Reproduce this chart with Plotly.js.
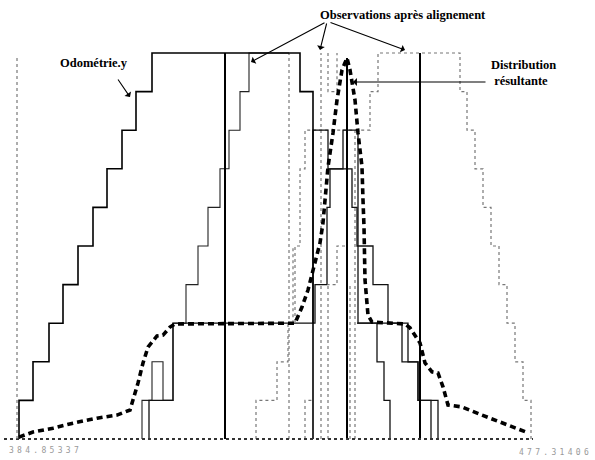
<!DOCTYPE html>
<html><head><meta charset="utf-8">
<script src="https://cdn.plot.ly/plotly-3.0.1.min.js"></script>
<style>html,body{margin:0;padding:0;background:#fff}#chart{width:595px;height:460px}</style>
</head><body><div id="chart"></div>
<script>
// x: position along the track (chart units), y: histogram level (0..10)
const axisLabels = ["384.85337", "477.31406"];

// Odométrie.y staircase (step positions / levels)
const odometrieX = [19,19,33,49,63,78,93,107,122,136,152,300,313];
const odometrieY = [0,1,2,3,4,5,6,7,8,9,10,9,0];

// observations after alignment (solid)
const obs1X = [142,142,152,163,173,186,198,208,220,229,240,249,289];
const obs1Y = [0,1,2,1,3,4,5,6,7,8,9,10,10];
const obs2X = [149,149,173,315,327,330,343,358,402,418,438];
const obs2Y = [0,1,3,4,6,7,8,3,2,1,0];
const obs3X = [313,313,328,352,357,373,388,408,418,431];
const obs3Y = [3,8,7,6,5,4,3,2,1,0];
const obs4X = [357,377,384,390];
const obs4Y = [3,2,1,0];

// observation after alignment (dotted)
const obs5X = [256,256,277,288,295,300,305,370,378,460,467,475,483,491,499,507,515,523,531];
const obs5Y = [0,1,2,3,5,7,8,9,10,9,8,7,6,5,4,3,2,1,0];

// full-height solid observations (position, top level)
const solidVertX = [225,347,420];
const solidVertTop = [10,9.87,10];

// dotted observations as vertical edges (position, bottom, top)
const dotVertX = [289,321,355,350,328,293];
const dotVertLow = [0,0,0,0,0,3];
const dotVertTop = [10,10,8,4,4,5];

// small dotted boxes (corner points, null separates)
const dotBoxX = [328,328,337,337,null,345,337,337,328,null,305,305,312];
const dotBoxY = [10,9,9,10,null,5,5,4,4,null,0,1,1];

// resulting distribution
const distX = [19,33,53,73,97,117,130,133,138,143,148,157,163,170,175,295,302,308,315,320,323,328,333,337,342,347,350,355,358,362,363,364,365,368,372,405,410,420,425,432,438,443,448,462,482,502,525,528];
const distY = [0.05,0.18,0.28,0.41,0.54,0.62,0.75,1.01,1.45,1.97,2.38,2.67,2.69,2.90,2.98,3.0,3.42,3.86,4.56,5.08,5.6,7.05,7.93,8.78,9.56,9.87,9.56,8.78,7.93,7.05,6.19,5.5,4.12,3.21,3.03,2.98,2.88,2.49,1.97,1.74,1.71,1.35,0.88,0.83,0.62,0.41,0.18,0.16];

function vert(xs, lows, tops){
  const X=[],Y=[];
  xs.forEach((x,i)=>{X.push(x,x,null);Y.push(lows[i],tops[i],null);});
  return {X,Y};
}
const sv = vert(solidVertX, solidVertX.map(()=>0), solidVertTop);
const dv = vert(dotVertX, dotVertLow, dotVertTop);

const dotted = {color:'#777', width:1.2, dash:'dot'};
const traces = [
  {x:dv.X, y:dv.Y, mode:'lines', line:dotted},
  {x:dotBoxX, y:dotBoxY, mode:'lines', line:dotted},
  {x:obs5X, y:obs5Y, mode:'lines', line:Object.assign({shape:'hv'},dotted)},
  {x:obs1X, y:obs1Y, mode:'lines', line:{color:'#222', width:1.1, shape:'hv'}},
  {x:obs2X, y:obs2Y, mode:'lines', line:{color:'#111', width:1.3, shape:'hv'}},
  {x:obs3X, y:obs3Y, mode:'lines', line:{color:'#111', width:1.3, shape:'hv'}},
  {x:obs4X, y:obs4Y, mode:'lines', line:{color:'#111', width:1.3, shape:'hv'}},
  {x:sv.X, y:sv.Y, mode:'lines', line:{color:'#000', width:2}},
  {x:odometrieX, y:odometrieY, mode:'lines', line:{color:'#000', width:1.6, shape:'hv'}},
  {x:distX, y:distY, mode:'lines', line:{color:'#000', width:3.6, dash:'6px,4px'}}
];

const W=595,H=460;
const P=(px)=>px/W, Q=(py)=>1-py/H;
function arrow(tx,ty,hx,hy){
  return {xref:'paper',yref:'paper',x:P(hx),y:Q(hy),ax:tx-hx,ay:ty-hy,text:'',showarrow:true,
    arrowhead:1,arrowsize:1.2,arrowwidth:1.1,arrowcolor:'#000'};
}
const serif = {family:'Liberation Serif', size:12.5, color:'#000'};
const tickFont = {family:'DejaVu Sans Mono',size:8,color:'#999'};
const annotations = [
  {xref:'paper',yref:'paper',x:P(94),y:Q(63),xanchor:'center',yanchor:'middle',text:'<b>Odométrie.y</b>',showarrow:false,font:serif},
  arrow(117,78,130,97),
  {xref:'paper',yref:'paper',x:P(403),y:Q(15),xanchor:'center',yanchor:'middle',text:'<b>Observations après alignement</b>',showarrow:false,font:serif},
  arrow(326,22,251,62),
  arrow(327,22,320,50),
  arrow(329,22,405,50),
  {xref:'paper',yref:'paper',x:P(489),y:Q(73),xanchor:'left',yanchor:'middle',align:'left',text:'<b>Distribution<br> résultante</b>',showarrow:false,font:serif},
  arrow(487,82,353,82),
  {xref:'paper',yref:'paper',x:P(7),y:Q(450),xanchor:'left',yanchor:'middle',showarrow:false,
    text:'<span style="letter-spacing:3.3px">'+axisLabels[0]+'</span>',font:tickFont},
  {xref:'paper',yref:'paper',x:P(594),y:Q(452),xanchor:'right',yanchor:'middle',showarrow:false,
    text:'<span style="letter-spacing:3.3px">'+axisLabels[1]+'</span>',font:tickFont}
];

const layout = {
  width:W, height:H, margin:{l:0,r:0,t:0,b:0}, showlegend:false,
  paper_bgcolor:'#fff', plot_bgcolor:'#fff',
  xaxis:{range:[0,595], visible:false, fixedrange:true},
  yaxis:{range:[-0.544,11.373], visible:false, fixedrange:true},
  shapes:[
    {type:'line',xref:'x',yref:'y',x0:4,x1:533,y0:0,y1:0,line:{color:'#333',width:2,dash:'dot'}},
    {type:'line',xref:'x',yref:'y',x0:17,x1:17,y0:0,y1:9.95,line:{color:'#777',width:1.2,dash:'dot'}}
  ],
  annotations
};
Plotly.newPlot('chart', traces, layout, {staticPlot:true, displayModeBar:false});
</script>
</body></html>
